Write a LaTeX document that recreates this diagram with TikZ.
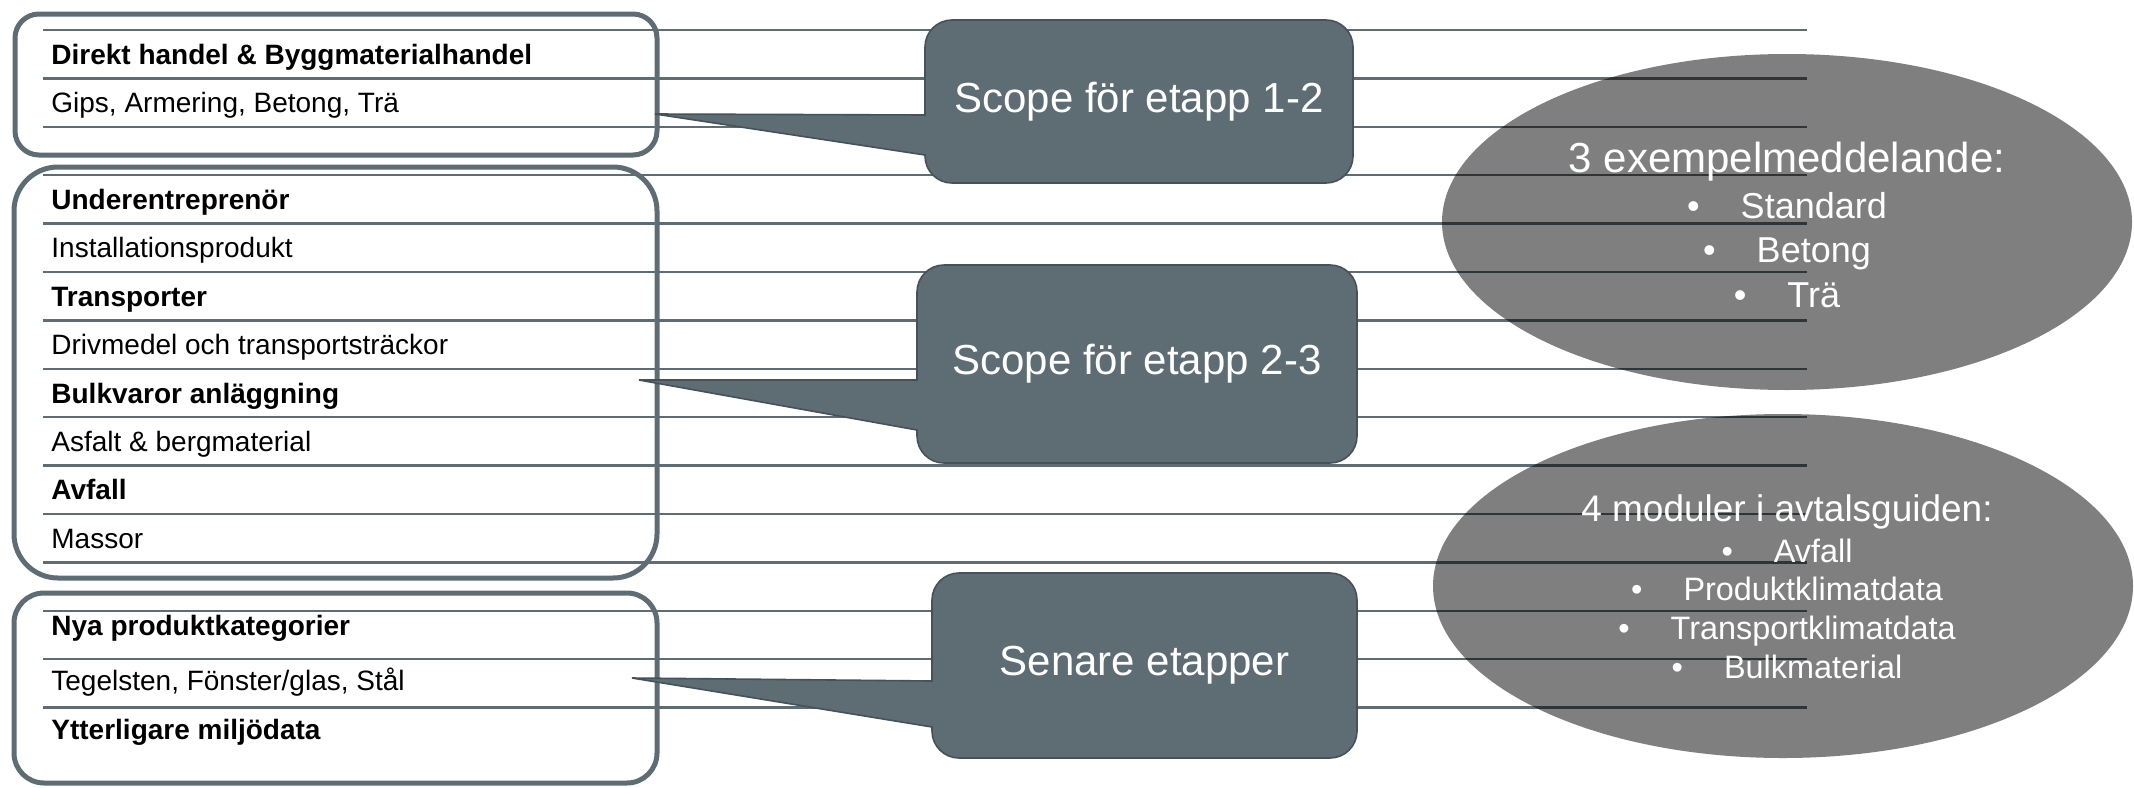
\documentclass[tikz,border=0pt]{standalone}
\usepackage{fontspec}
\setmainfont{Liberation Sans}
\definecolor{slate}{RGB}{94,108,116}
\definecolor{slatedark}{RGB}{70,82,89}

\begin{document}
\begin{tikzpicture}[x=0.5pt,y=0.5pt,yscale=-1,
	rowline/.style={draw=slate,line width=1.2pt},
	groupbox/.style={draw=slate,line width=2.5pt},
	callout/.style={fill=slate,draw=slatedark,line width=0.8pt},
	calloutlabel/.style={text=white,font=\fontsize{21}{25}\selectfont,inner sep=0pt},
	rowlabel/.style={anchor=base west,inner sep=0pt,font=\fontsize{14}{17}\selectfont},
	rowhead/.style={anchor=base west,inner sep=0pt,font=\fontsize{14}{17}\selectfont\bfseries},
	bubble/.style={fill=black,opacity=0.5},
	bubbletext/.style={anchor=base,inner sep=0pt,text=white}]
	\useasboundingbox (0,0) rectangle (2134,787);
	% table rows
	\foreach \i in {0,...,14}
		\draw [rowline] (43,30+48.4*\i) -- (1807,30+48.4*\i);
	% group boxes
	\draw [groupbox,rounded corners=12pt] (15,14) rectangle (657,155);
	\draw [groupbox,rounded corners=22pt] (14,167) rectangle (657,578);
	\draw [groupbox,rounded corners=15pt] (14,593) rectangle (657,783);
	% callouts
	\draw [callout] (1139,20) [rounded corners=13.5pt] -- (925,20) [sharp corners] -- (925,115) -- (655,114) -- (925,155) [rounded corners=13.5pt] -- (925,183) -- (1353,183) -- (1353,20) -- cycle;
	\draw [callout] (1137,265) [rounded corners=13.5pt] -- (917,265) [sharp corners] -- (917,380) -- (639,380) -- (917,430) [rounded corners=13.5pt] -- (917,463) -- (1357,463) -- (1357,265) -- cycle;
	\draw [callout] (1144,573) [rounded corners=13.5pt] -- (932,573) [sharp corners] -- (932,681) -- (632,678) -- (932,727) [rounded corners=13.5pt] -- (932,758) -- (1357,758) -- (1357,573) -- cycle;
	\draw (1139,101.5) node (s12) [calloutlabel] {Scope för etapp 1-2};
	\draw (1137,364) node (s23) [calloutlabel] {Scope för etapp 2-3};
	\draw (1144.5,665.5) node (sen) [calloutlabel] {Senare etapper};
	% ellipses
	\fill [bubble] (1787,222) ellipse [x radius=172.5pt, y radius=84pt];
	\fill [bubble] (1783,586) ellipse [x radius=175pt, y radius=86pt];
	% row texts
	\draw (51,64) node (dh) [rowhead] {Direkt handel \& Byggmaterialhandel};
	\draw (51,112.6) node (gips) [rowlabel] {Gips, Armering, Betong, Trä};
	\draw (51,209.4) node (ue) [rowhead] {Underentreprenör};
	\draw (51,257.8) node (inst) [rowlabel] {Installationsprodukt};
	\draw (51,306.2) node (tr) [rowhead] {Transporter};
	\draw (51,354.6) node (driv) [rowlabel] {Drivmedel och transportsträckor};
	\draw (51,403) node (bulk) [rowhead] {Bulkvaror anläggning};
	\draw (51,451.4) node (asf) [rowlabel] {Asfalt \& bergmaterial};
	\draw (51,499.8) node (avf) [rowhead] {Avfall};
	\draw (51,548.2) node (mass) [rowlabel] {Massor};
	\draw (51,635) node (nya) [rowhead] {Nya produktkategorier};
	\draw (51,690) node (teg) [rowlabel] {Tegelsten, Fönster/glas, Stål};
	\draw (51,739) node (ytt) [rowhead] {Ytterligare miljödata};
	% ellipse texts
	\draw (1787,172) node (ex) [bubbletext,font=\fontsize{21}{25}\selectfont] {3 exempelmeddelande:};
	\draw (1787,218) node (exa) [bubbletext,font=\fontsize{18}{22}\selectfont] {\textbullet\hspace{20.5pt}Standard};
	\draw (1787,262) node (exb) [bubbletext,font=\fontsize{18}{22}\selectfont] {\textbullet\hspace{20.5pt}Betong};
	\draw (1787,307) node (exc) [bubbletext,font=\fontsize{18}{22}\selectfont] {\textbullet\hspace{20.5pt}Trä};
	\draw (1787,521) node (mod) [bubbletext,font=\fontsize{18.5}{22}\selectfont] {4 moduler i avtalsguiden:};
	\draw (1787,562) node (moda) [bubbletext,font=\fontsize{16.2}{19}\selectfont] {\textbullet\hspace{20.5pt}Avfall};
	\draw (1787,600.5) node (modb) [bubbletext,font=\fontsize{16.2}{19}\selectfont] {\textbullet\hspace{20.5pt}Produktklimatdata};
	\draw (1787,639) node (modc) [bubbletext,font=\fontsize{16.2}{19}\selectfont] {\textbullet\hspace{20.5pt}Transportklimatdata};
	\draw (1787,678) node (modd) [bubbletext,font=\fontsize{16.2}{19}\selectfont] {\textbullet\hspace{20.5pt}Bulkmaterial};
\end{tikzpicture}
\end{document}
